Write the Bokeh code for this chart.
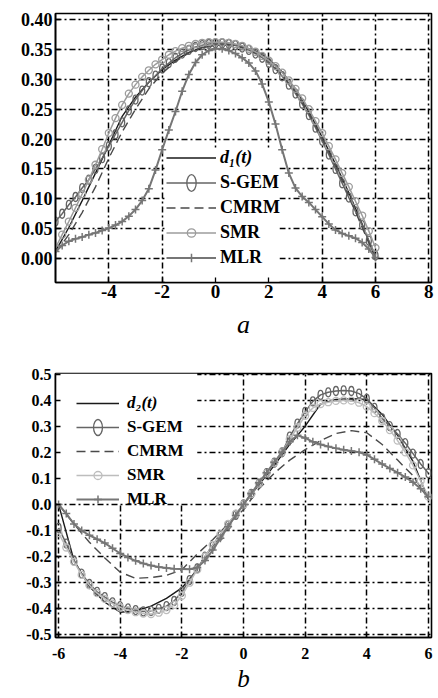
from bokeh.plotting import figure
from bokeh.layouts import column
from bokeh.models import Range1d, FixedTicker, Legend, LegendItem, BoxAnnotation
from bokeh.embed import file_html
from bokeh.resources import INLINE

# ---------------- panel a data ----------------
A_T = [-6.0, -5.5, -5.0, -4.5, -4.0, -3.5, -3.0, -2.5, -2.0, -1.5, -1.0, -0.5, 0.0,
       0.5, 1.0, 1.5, 2.0, 2.5, 3.0, 3.5, 4.0, 4.5, 5.0, 5.5, 6.0]
A_D1 = [0.012, 0.052, 0.097, 0.143, 0.190, 0.238, 0.270, 0.295, 0.316, 0.332, 0.345, 0.353, 0.357,
        0.358, 0.355, 0.347, 0.334, 0.312, 0.284, 0.246, 0.203, 0.158, 0.110, 0.058, 0.000]
A_CMRM = [0.010, 0.040, 0.077, 0.120, 0.168, 0.212, 0.250, 0.284, 0.310, 0.330, 0.344, 0.353, 0.357,
          0.357, 0.353, 0.344, 0.330, 0.307, 0.279, 0.243, 0.201, 0.155, 0.105, 0.052, 0.000]
A_TF = [-6.0, -5.75, -5.5, -5.25, -5.0, -4.75, -4.5, -4.25, -4.0, -3.75, -3.5, -3.25, -3.0,
        -2.75, -2.5, -2.25, -2.0, -1.75, -1.5, -1.25, -1.0, -0.75, -0.5, -0.25, 0.0,
        0.25, 0.5, 0.75, 1.0, 1.25, 1.5, 1.75, 2.0, 2.25, 2.5, 2.75, 3.0, 3.25, 3.5,
        3.75, 4.0, 4.25, 4.5, 4.75, 5.0, 5.25, 5.5, 5.75, 6.0]
A_SGEM = [0.062, 0.075, 0.090, 0.103, 0.118, 0.132, 0.150, 0.168, 0.188, 0.208, 0.228, 0.248, 0.266,
          0.281, 0.295, 0.306, 0.318, 0.327, 0.336, 0.343, 0.349, 0.354, 0.357, 0.359, 0.360,
          0.360, 0.359, 0.357, 0.353, 0.349, 0.343, 0.336, 0.327, 0.317, 0.305, 0.291, 0.276, 0.259,
          0.240, 0.219, 0.197, 0.174, 0.150, 0.126, 0.102, 0.079, 0.056, 0.030, 0.005]
A_SMR = [0.018, 0.040, 0.062, 0.085, 0.108, 0.132, 0.157, 0.183, 0.210, 0.235, 0.257, 0.276, 0.291,
         0.304, 0.315, 0.325, 0.333, 0.341, 0.347, 0.352, 0.356, 0.359, 0.361, 0.362, 0.362,
         0.362, 0.361, 0.359, 0.356, 0.351, 0.346, 0.339, 0.331, 0.322, 0.311, 0.298, 0.284, 0.268,
         0.250, 0.230, 0.210, 0.188, 0.166, 0.143, 0.120, 0.096, 0.072, 0.046, 0.018]
A_MLR = [0.012, 0.022, 0.029, 0.033, 0.036, 0.040, 0.043, 0.047, 0.051, 0.056, 0.062, 0.071, 0.082,
         0.097, 0.117, 0.148, 0.182, 0.215, 0.246, 0.280, 0.308, 0.328, 0.341, 0.348, 0.351,
         0.351, 0.348, 0.343, 0.336, 0.327, 0.314, 0.292, 0.262, 0.225, 0.182, 0.143, 0.118, 0.104,
         0.094, 0.082, 0.070, 0.058, 0.048, 0.042, 0.038, 0.034, 0.027, 0.016, 0.002]
A_XTICKS = [-4, -2, 0, 2, 4, 6, 8]
A_XLABELS = ["-4", "-2", "0", "2", "4", "6", "8"]
A_YTICKS = [0.0, 0.05, 0.1, 0.15, 0.2, 0.25, 0.3, 0.35, 0.4]
A_YLABELS = ["0.00", "0.05", "0.10", "0.15", "0.20", "0.25", "0.30", "0.35", "0.40"]

# ---------------- panel b data ----------------
B_T = A_T
B_D2 = [0.000, -0.215, -0.315, -0.375, -0.413, -0.408, -0.390, -0.360, -0.320, -0.250, -0.155, -0.075, 0.000,
        0.075, 0.150, 0.230, 0.300, 0.385, 0.403, 0.405, 0.403, 0.345, 0.265, 0.165, 0.020]
B_CMRM = [0.000, -0.075, -0.145, -0.205, -0.260, -0.283, -0.280, -0.272, -0.250, -0.190, -0.135, -0.075, -0.020,
          0.060, 0.120, 0.170, 0.210, 0.245, 0.272, 0.283, 0.275, 0.230, 0.170, 0.110, 0.020]
B_TF = A_TF
B_SGEM = [-0.09, -0.15, -0.215, -0.265, -0.305, -0.335, -0.355, -0.375, -0.39, -0.398,
          -0.405, -0.41, -0.408, -0.40, -0.39, -0.37, -0.335, -0.29, -0.245, -0.2,
          -0.16, -0.12, -0.08, -0.04, 0.0, 0.04, 0.08, 0.12, 0.16, 0.2,
          0.26, 0.31, 0.355, 0.395, 0.42, 0.43, 0.435, 0.437, 0.435, 0.425,
          0.405, 0.37, 0.33, 0.30, 0.27, 0.235, 0.195, 0.155, 0.12]
B_SMR = [-0.11, -0.165, -0.22, -0.27, -0.31, -0.34, -0.362, -0.38, -0.395, -0.405,
         -0.413, -0.418, -0.42, -0.415, -0.405, -0.385, -0.35, -0.3, -0.25, -0.2,
         -0.155, -0.115, -0.075, -0.035, 0.0, 0.04, 0.08, 0.12, 0.16, 0.2,
         0.25, 0.295, 0.34, 0.37, 0.385, 0.392, 0.397, 0.399, 0.398, 0.39,
         0.375, 0.35, 0.32, 0.285, 0.245, 0.2, 0.15, 0.09, 0.03]
B_MLR = [0.0, -0.035, -0.075, -0.1, -0.118, -0.133, -0.148, -0.168, -0.188, -0.203,
         -0.216, -0.226, -0.234, -0.24, -0.244, -0.246, -0.247, -0.248, -0.242, -0.215,
         -0.175, -0.13, -0.085, -0.042, 0.0, 0.042, 0.083, 0.122, 0.162, 0.2,
         0.24, 0.265, 0.255, 0.24, 0.23, 0.222, 0.215, 0.21, 0.205, 0.2,
         0.19, 0.173, 0.155, 0.138, 0.122, 0.105, 0.085, 0.06, 0.03]
B_XTICKS = [-6, -4, -2, 0, 2, 4, 6]
B_XLABELS = ["-6", "-4", "-2", "0", "2", "4", "6"]
B_YTICKS = [-0.5, -0.4, -0.3, -0.2, -0.1, 0.0, 0.1, 0.2, 0.3, 0.4, 0.5]
B_YLABELS = ["-0.5", "-0.4", "-0.3", "-0.2", "-0.1", "0.0", "0.1", "0.2", "0.3", "0.4", "0.5"]

SERIES = ["S-GEM", "CMRM", "SMR", "MLR"]

SERIF = "Liberation Serif"
GRID_DASH = "6 3 2 3"
C_TRUE = "#1a1a1a"
C_SGEM = "#656565"
C_CMRM = "#4a4a4a"
C_MLR = "#767676"


def style(p, xticks, xlabels, yticks, ylabels, fsx, fsy, xstand, ystand, lab, lab_fs, lab_stand):
    p.outline_line_color = "black"
    p.outline_line_width = 1.6
    p.outline_line_alpha = 1.0
    p.xaxis.ticker = FixedTicker(ticks=xticks)
    p.yaxis.ticker = FixedTicker(ticks=yticks)
    p.xaxis.major_label_overrides = dict(zip(xticks, xlabels))
    p.yaxis.major_label_overrides = dict(zip(yticks, ylabels))
    for ax in (p.xaxis, p.yaxis):
        ax.axis_line_color = "black"
        ax.axis_line_width = 1.6
        ax.major_tick_in = 5
        ax.major_tick_out = 0
        ax.major_tick_line_color = "black"
        ax.major_tick_line_width = 1.3
        ax.minor_tick_line_color = None
        ax.major_label_text_font = SERIF
        ax.major_label_text_font_style = "bold"
        ax.major_label_text_color = "black"
    p.xaxis.major_label_text_font_size = fsx
    p.yaxis.major_label_text_font_size = fsy
    p.xaxis.major_label_standoff = xstand
    p.yaxis.major_label_standoff = ystand
    p.xaxis.axis_label = lab
    p.xaxis.axis_label_text_font = SERIF
    p.xaxis.axis_label_text_font_style = "italic"
    p.xaxis.axis_label_text_font_size = lab_fs
    p.xaxis.axis_label_text_color = "black"
    p.xaxis.axis_label_standoff = lab_stand
    p.grid.grid_line_color = "black"
    p.grid.grid_line_dash = GRID_DASH
    p.grid.grid_line_width = 1.5
    p.grid.grid_line_alpha = 1.0


def draw(p, t, truth, cmrm, tf, sgem, smr, mlr, smr_color):
    r_true = p.line(t, truth, line_color=C_TRUE, line_width=1.4)
    r_sg_l = p.line(tf, sgem, line_color=C_SGEM, line_width=1.5)
    r_sg_m = p.ellipse(tf, sgem, width=5, height=9, width_units="screen", height_units="screen",
                       fill_color=None, line_color=C_SGEM, line_width=1.3)
    r_cm = p.line(t, cmrm, line_color=C_CMRM, line_width=1.4, line_dash="9 5")
    r_smr_l = p.line(tf, smr, line_color=smr_color, line_width=1.5)
    r_smr_m = p.scatter(tf, smr, marker="circle", size=7, fill_color=None,
                        line_color=smr_color, line_width=1.3)
    r_mlr_l = p.line(tf, mlr, line_color=C_MLR, line_width=2.0)
    r_mlr_m = p.scatter(tf, mlr, marker="cross", size=8, line_color=C_MLR, line_width=1.5)
    first = [r_true]
    rest = [
        LegendItem(label=SERIES[0], renderers=[r_sg_l, r_sg_m]),
        LegendItem(label=SERIES[1], renderers=[r_cm]),
        LegendItem(label=SERIES[2], renderers=[r_smr_l, r_smr_m]),
        LegendItem(label=SERIES[3], renderers=[r_mlr_l, r_mlr_m]),
    ]
    return first, rest


def make_legend(items, loc, gw, gh, stand, fs, style_):
    lg = Legend(items=items, location=loc)
    lg.glyph_width = gw
    lg.glyph_height = gh
    lg.label_height = gh
    lg.spacing = 4
    lg.padding = 4
    lg.margin = 0
    lg.label_standoff = stand
    lg.label_text_font = SERIF
    lg.label_text_font_style = style_
    lg.label_text_font_size = fs
    lg.label_text_color = "black"
    lg.background_fill_alpha = 0
    lg.border_line_color = None
    return lg


# ---------------- panel a ----------------
A_XR = (-6.0, 8.1)
A_YR = (-0.04, 0.41)
p1 = figure(width=438, height=353, output_backend="svg", toolbar_location=None,
            x_range=Range1d(*A_XR), y_range=Range1d(*A_YR),
            min_border_left=52, min_border_right=1, min_border_top=13, min_border_bottom=71,
            background_fill_color="white", border_fill_color="white")
style(p1, A_XTICKS, A_XLABELS, A_YTICKS, A_YLABELS, "19px", "18px", 2, 3, "a", "26px", 9)
box1 = BoxAnnotation(left=-1.9, right=2.4, bottom=A_YR[0], top=0.182,
                     fill_color="white", fill_alpha=1.0, line_color=None, level="underlay")
p1.add_layout(box1)
first1, rest1 = draw(p1, A_T, A_D1, A_CMRM, A_TF, A_SGEM, A_SMR, A_MLR, "#9c9c9c")
p1.add_layout(make_legend(rest1, (111, 14), 50, 21, 4, "18px", "bold"))
p1.add_layout(make_legend([LegendItem(label="d\u2081(t)", renderers=first1)], (111, 114),
                          50, 21, 4, "18px", "bold italic"))

# ---------------- panel b ----------------
B_XR = (-6.1, 6.1)
B_YR = (-0.51, 0.502)
p2 = figure(width=438, height=345, output_backend="svg", toolbar_location=None,
            x_range=Range1d(*B_XR), y_range=Range1d(*B_YR),
            min_border_left=55, min_border_right=7, min_border_top=20, min_border_bottom=61,
            background_fill_color="white", border_fill_color="white")
style(p2, B_XTICKS, B_XLABELS, B_YTICKS, B_YLABELS, "16px", "16px", 10, 4, "b", "25px", 3)
box2 = BoxAnnotation(left=B_XR[0], right=-1.5, bottom=0.006, top=B_YR[1],
                     fill_color="white", fill_alpha=1.0, line_color=None, level="underlay")
p2.add_layout(box2)
first2, rest2 = draw(p2, B_T, B_D2, B_CMRM, B_TF, B_SGEM, B_SMR, B_MLR, "#bdbdbd")
p2.add_layout(make_legend(rest2, (21, 128), 43, 20, 8, "17px", "bold"))
p2.add_layout(make_legend([LegendItem(label="d\u2082(t)", renderers=first2)], (21, 224),
                          43, 20, 8, "17px", "bold italic"))

layout = column(p1, p2, spacing=0)
open("out.html", "w").write(file_html(layout, INLINE))
